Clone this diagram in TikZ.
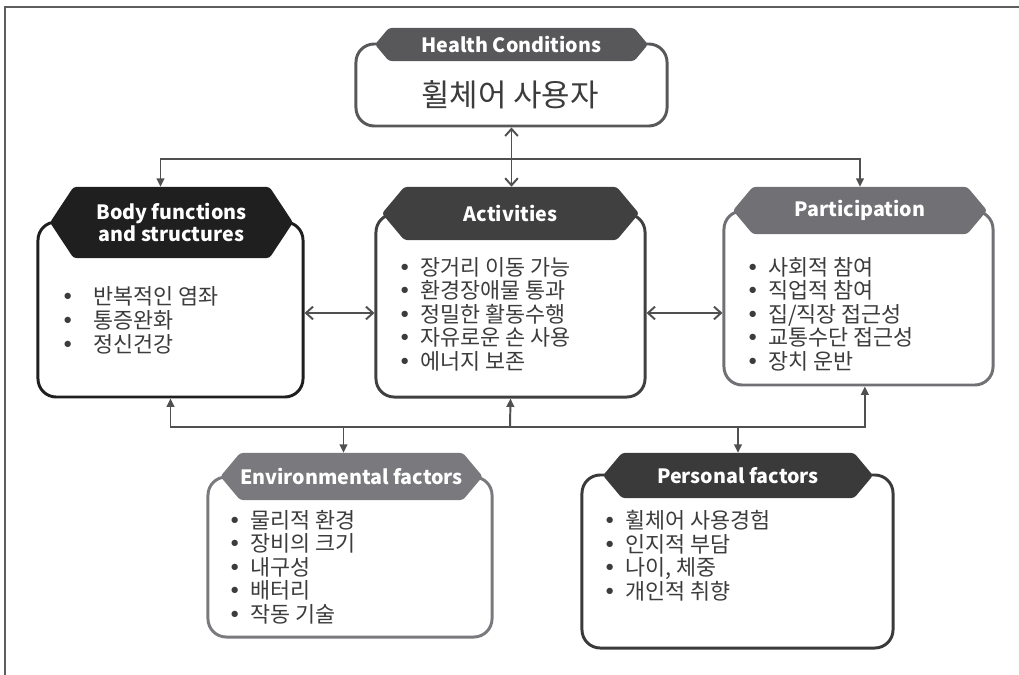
\documentclass[tikz,border=0pt]{standalone}
\usepackage{fontspec}
\setmainfont{Noto Sans CJK KR}
\newfontfamily\bulfont{DejaVu Sans}
\usetikzlibrary{shapes.symbols,arrows.meta}

\definecolor{framegray}{HTML}{5E5E5E}
\definecolor{linegray}{HTML}{505050}
\definecolor{txtgray}{HTML}{3C3C3C}
\definecolor{hcgray}{HTML}{58585A}
\definecolor{bodyblk}{HTML}{1F1F1F}
\definecolor{actgray}{HTML}{404040}
\definecolor{pargray}{HTML}{707075}
\definecolor{envgray}{HTML}{7A7A7E}
\definecolor{pergray}{HTML}{3A3A3A}

\newcommand\itm[1][1.0em]{\makebox[#1][l]{\bulfont •}}

\begin{document}
\begin{tikzpicture}[
    x=0.025cm, y=-0.025cm,
    box/.style={draw, line width=2.1pt, rounded corners=13pt, inner sep=0pt},
    tab/.style={signal, signal to=west and east, signal pointer angle=100,
                inner sep=0pt, rounded corners=2pt, text=white,
                font=\bfseries\fontsize{14}{16}\selectfont, align=center},
    lst/.style={anchor=north west, inner sep=0pt, align=left, text=txtgray,
                font=\fontsize{15.5}{16.7}\selectfont},
    dbl/.style={draw=linegray, line width=1.4pt,
                {Straight Barb[length=5pt,width=9pt]}-{Straight Barb[length=5pt,width=9pt]}},
    tip/.style={draw=linegray, line width=1.4pt, -{Triangle[length=6pt,width=5.5pt]}}
]
  \useasboundingbox (0,0) rectangle (1019,675);

  % outer frame
  \draw[framegray, line width=2.1pt] (5,675) -- (5,7) -- (1019,7);

  % health conditions
  \node[box, draw=hcgray, minimum width=7.775cm, minimum height=2.05cm] (hc) at (511.5,85) {};
  \node[tab, fill=hcgray, minimum width=6.825cm, minimum height=0.825cm] (hcT) at (511.5,44.5) {Health Conditions};
  \node[text=txtgray, font=\fontsize{22}{24}\selectfont] (hcTxt) at (510,95) {휠체어 사용자};

  % body functions and structures
  \node[box, draw=bodyblk, minimum width=6.625cm, minimum height=4.375cm] (body) at (170.5,309.5) {};
  \node[tab, fill=bodyblk, signal pointer angle=113, minimum width=6.075cm, minimum height=1.775cm] (bodyT) at (171.5,222.5) {Body functions\\and structures};
  \node[lst, font=\fontsize{15.5}{17}\selectfont] (bodyL) at (61,286) {\itm[1.46em]반복적인 염좌\\ \itm[1.46em]통증완화\\ \itm[1.46em]정신건강};

  % activities
  \node[box, draw=actgray, minimum width=6.725cm, minimum height=4.575cm] (act) at (510.5,305.5) {};
  \node[tab, fill=actgray, minimum width=6.425cm, minimum height=1.325cm] (actT) at (510.5,213.5) {Activities};
  \node[lst] (actL) at (398,257) {\itm 장거리 이동 가능\\ \itm 환경장애물 통과\\ \itm 정밀한 활동수행\\ \itm 자유로운 손 사용\\ \itm 에너지 보존};

  % participation
  \node[box, draw=pargray, minimum width=6.725cm, minimum height=4.35cm] (par) at (858.5,298) {};
  \node[tab, fill=pargray, minimum width=6.35cm, minimum height=1.175cm] (parT) at (860,210.5) {Participation};
  \node[lst] (parL) at (746,257) {\itm 사회적 참여\\ \itm 직업적 참여\\ \itm 집/직장 접근성\\ \itm 교통수단 접근성\\ \itm 장치 운반};

  % environmental factors
  \node[box, draw=envgray, minimum width=7.1cm, minimum height=4.0cm] (env) at (350,557) {};
  \node[tab, fill=envgray, minimum width=6.325cm, minimum height=1.175cm] (envT) at (351.5,476.5) {Environmental factors};
  \node[lst] (envL) at (228,510) {\itm 물리적 환경\\ \itm 장비의 크기\\ \itm 내구성\\ \itm 배터리\\ \itm 작동 기술};

  % personal factors
  \node[box, draw=pergray, minimum width=7.775cm, minimum height=4.325cm] (per) at (737.5,561.5) {};
  \node[tab, fill=pergray, minimum width=6.75cm, minimum height=1.125cm] (perT) at (738,475.5) {Personal factors};
  \node[lst] (perL) at (603,510) {\itm 휠체어 사용경험\\ \itm 인지적 부담\\ \itm 나이, 체중\\ \itm 개인적 취향};

  % connectors
  \coordinate (busT) at (511,159);
  \coordinate (busB) at (510,427);
  \coordinate (mid) at (0,313);

  \draw[dbl] (hc.south) -- (hc.south |- actT.north);
  \draw[tip] (busT) -| ([xshift=-0.275cm]bodyT.north);
  \draw[tip] (busT) -| (parT.north);

  \draw[dbl] (body.east |- mid) -- (act.west |- mid);
  \draw[dbl] (act.east |- mid) -- (par.west |- mid);

  \draw[tip] (busB) -| (body.south);
  \draw[tip] (busB) -- (act.south);
  \draw[tip] (busB) -| ([xshift=0.16cm]par.south);
  \draw[tip] (busB) -| ([xshift=-0.2cm]envT.north);
  \draw[tip] (busB) -| (perT.north);
\end{tikzpicture}
\end{document}
